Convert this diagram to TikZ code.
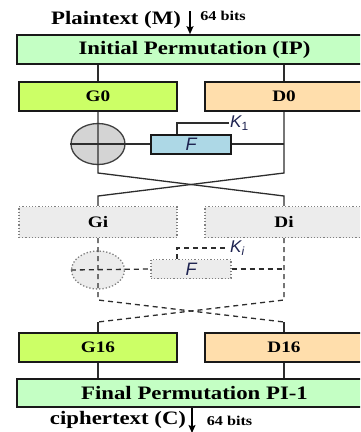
\documentclass[tikz,border=0pt]{standalone}
\usepackage{fontspec}
\setmainfont{Liberation Serif}[FakeStretch=1.2]
\setsansfont{Liberation Sans}
\usetikzlibrary{arrows.meta,shapes.geometric}
\definecolor{permgreen}{RGB}{196,255,196}
\definecolor{leftgreen}{RGB}{204,255,102}
\definecolor{rightpeach}{RGB}{255,222,172}
\definecolor{fblue}{RGB}{173,216,230}
\definecolor{xorgray}{RGB}{212,212,212}
\definecolor{roundgray}{RGB}{236,236,236}
\definecolor{linegray}{RGB}{45,45,45}
\definecolor{fnavy}{RGB}{30,35,80}
\tikzset{
  perm/.style={rectangle, draw=black!90, line width=2.2pt, fill=permgreen, minimum width=355pt,
               minimum height=28.5pt, inner sep=0pt, font=\fontsize{19}{19}\selectfont\bfseries},
  half/.style={rectangle, draw=black!90, line width=2.2pt, minimum width=158pt, minimum height=29pt,
               inner sep=0pt, font=\fontsize{16}{16}\selectfont\bfseries},
  halfleft/.style={half, fill=leftgreen},
  halfright/.style={half, fill=rightpeach},
  halfround/.style={half, draw=gray, line width=1.2pt, dotted, fill=roundgray, minimum height=31pt},
  fbox/.style={rectangle, draw=black!90, line width=2pt, fill=fblue, minimum width=80pt, minimum height=19pt,
               inner sep=0pt, font=\fontsize{18}{18}\selectfont\sffamily\itshape, text=fnavy},
  fround/.style={fbox, draw=gray, line width=1.2pt, dotted, fill=roundgray},
  xor/.style={ellipse, draw=black!75, line width=1.3pt, fill=xorgray, minimum width=54pt, minimum height=41pt},
  xorround/.style={xor, draw=gray, dotted, fill=roundgray, minimum width=53pt, minimum height=38pt},
  keylabel/.style={font=\fontsize{17}{17}\selectfont\sffamily\itshape, text=fnavy, inner sep=1pt, anchor=west},
  io/.style={font=\fontsize{19}{19}\selectfont\bfseries, inner sep=0pt, anchor=base},
  bits/.style={font=\fontsize{13.5}{13.5}\selectfont\bfseries, inner sep=0pt, anchor=base},
  conn/.style={linegray, line width=1.3pt},
  dline/.style={linegray, line width=1.3pt, dash pattern=on 5pt off 4pt},
  arr/.style={-{Stealth[length=8pt,width=7pt,inset=1.5pt]}, black, line width=1.4pt},
}
\begin{document}
\begin{tikzpicture}[x=1pt, y=-1pt]
\useasboundingbox (0,0) rectangle (360,432);
\clip (0,0) rectangle (360,432);

\node[io] (plain) at (116,24) {Plaintext (M)};
\node[bits] (bitsin) at (223,20) {64 bits};
\coordinate (inM) at (190,11);
\node[perm] (ip) at (194.5,49.5) {Initial Permutation (IP)};

\node[halfleft] (g0) at (98,96.5) {G0};
\node[halfright] (d0) at (284,96.5) {D0};
\node[xor] (xor1) at (98,144) {};
\node[fbox] (f1) at (191,144) {F};
\node[keylabel] (k1) at (229,123) {K\textsubscript{\upshape 1}};
\coordinate (r1top) at (0,173);
\coordinate (r1bot) at (0,196);

\node[halfround] (gi) at (98,222) {Gi};
\node[halfround] (di) at (284,222) {Di};
\node[xorround] (xor2) at (98,270) {};
\node[fround] (f2) at (191,269) {F};
\node[keylabel] (ki) at (229,248) {K\textsubscript{i}};
\coordinate (r2top) at (0,300);
\coordinate (r2bot) at (0,322);

\node[halfleft] (g16) at (98,347.5) {G16};
\node[halfright] (d16) at (284,347.5) {D16};
\node[perm] (fp) at (194.5,393) {Final Permutation PI-1};
\node[io] (cipher) at (118,424) {ciphertext (C)};
\node[bits] (bitsout) at (229.5,425) {64 bits};
\coordinate (outC) at (192,433);

\foreach \a/\b in {g0/ip.south, d0/ip.south, g16/fp.north, d16/fp.north}
  \draw[conn] (\a) -- (\a |- \b);

\draw[conn] (g0.south) -- (g0.south |- r1top) -- (di.north |- r1bot) -- (di.north);
\draw[conn] (d0.south) -- (d0.south |- r1top) -- (gi.north |- r1bot) -- (gi.north);
\draw[conn] (xor1.west) -- (f1.west);
\draw[conn] (f1.east) -- (f1.east -| d0.south);
\draw[conn] ([xshift=-14pt]f1.north) |- (k1.west);

\draw[dline] (gi.south) -- (gi.south |- r2top) -- (d16.north |- r2bot);
\draw[dline] (di.south) -- (di.south |- r2top) -- (g16.north |- r2bot);
\draw[dline] (xor2.west) -- (f2.west);
\draw[dline] (f2.east) -- (f2.east -| di.south);
\draw[dline] ([xshift=-14pt]f2.north) |- (ki.west);
\foreach \a in {g16, d16}
  \draw[conn] (\a.north |- r2bot) -- (\a.north);

\draw[arr] (inM) -- (inM |- ip.north);
\draw[arr] (fp.south -| outC) -- (outC);
\end{tikzpicture}
\end{document}
